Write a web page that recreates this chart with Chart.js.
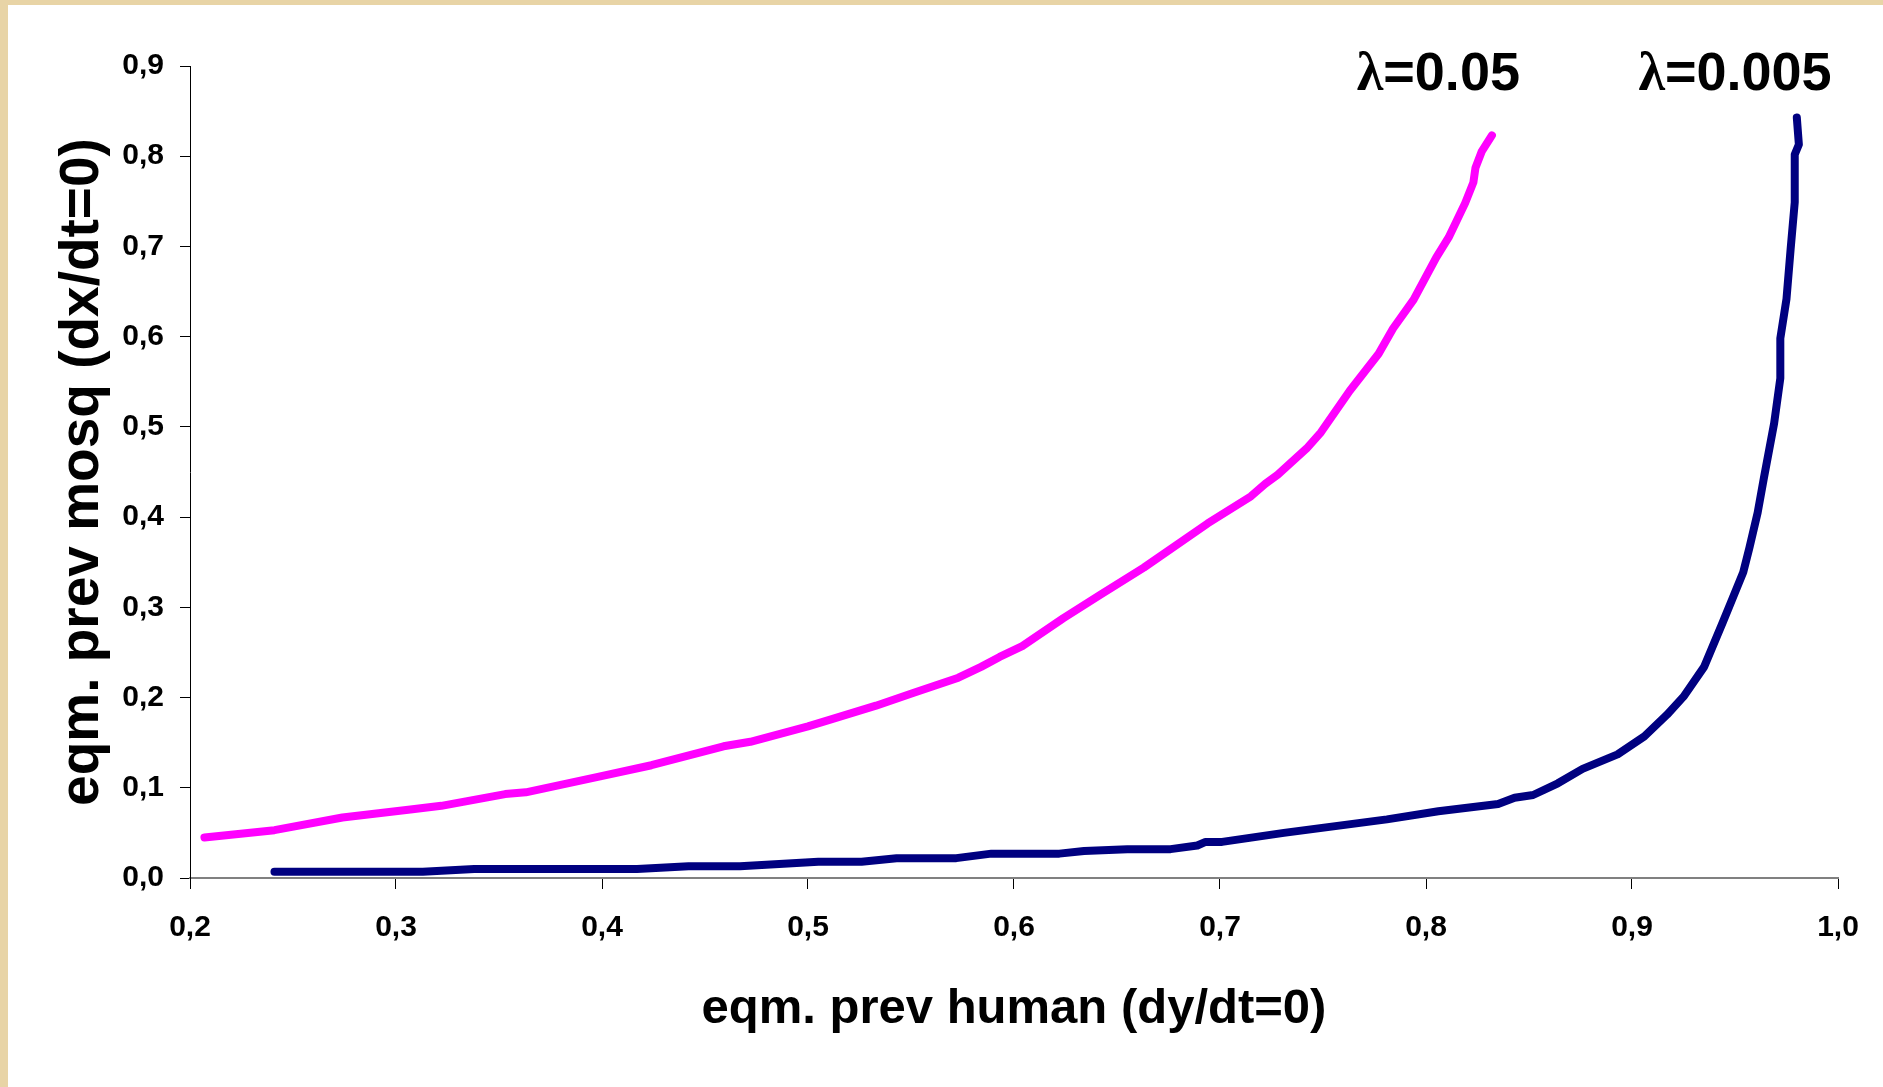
<!DOCTYPE html>
<html>
<head>
<meta charset="utf-8">
<script src="https://cdn.jsdelivr.net/npm/chart.js@4.4.0/dist/chart.umd.min.js"></script>
<style>
  html, body { margin: 0; padding: 0; }
  body { width: 1883px; height: 1087px; background: #e8d4a6; overflow: hidden; position: relative; }
  #wrap { position: absolute; left: 8px; top: 5px; width: 1875px; height: 1082px; background: #fff; }
  canvas { display: block; }
</style>
</head>
<body>
<div id="wrap"><canvas id="chart" width="1875" height="1082"></canvas></div>
<script>
// lambda = 0.05 (magenta)
const xLam05 = [0.207, 0.241, 0.274, 0.307, 0.322, 0.353, 0.363, 0.398, 0.424, 0.459, 0.472, 0.500, 0.510, 0.533, 0.551, 0.573, 0.584, 0.593, 0.604, 0.624, 0.642, 0.663, 0.694, 0.715, 0.722, 0.728, 0.742, 0.749, 0.763, 0.777, 0.784, 0.794, 0.805, 0.811, 0.819, 0.823, 0.824, 0.827, 0.832];
const yLam05 = [0.045, 0.053, 0.067, 0.076, 0.080, 0.093, 0.095, 0.112, 0.125, 0.146, 0.151, 0.168, 0.175, 0.191, 0.205, 0.222, 0.234, 0.245, 0.257, 0.288, 0.314, 0.344, 0.393, 0.423, 0.437, 0.447, 0.476, 0.494, 0.540, 0.581, 0.609, 0.641, 0.688, 0.710, 0.748, 0.771, 0.787, 0.805, 0.823];

// lambda = 0.005 (navy)
const xLam005 = [0.241, 0.313, 0.338, 0.417, 0.442, 0.467, 0.505, 0.526, 0.543, 0.572, 0.589, 0.622, 0.634, 0.655, 0.676, 0.689, 0.693, 0.701, 0.731, 0.781, 0.806, 0.835, 0.843, 0.852, 0.864, 0.876, 0.893, 0.906, 0.917, 0.925, 0.935, 0.944, 0.949, 0.954, 0.957, 0.961, 0.964, 0.969, 0.972, 0.972, 0.975, 0.977, 0.979, 0.979, 0.981, 0.980];
const yLam005 = [0.007, 0.007, 0.010, 0.010, 0.013, 0.013, 0.018, 0.018, 0.022, 0.022, 0.027, 0.027, 0.030, 0.032, 0.032, 0.036, 0.040, 0.040, 0.050, 0.065, 0.074, 0.082, 0.089, 0.092, 0.105, 0.121, 0.137, 0.157, 0.181, 0.201, 0.234, 0.283, 0.311, 0.339, 0.366, 0.405, 0.443, 0.504, 0.554, 0.598, 0.642, 0.697, 0.749, 0.802, 0.813, 0.843];

// curve labels, anchored in data units
const labelText = ['=0.05', '=0.005'];
const labelX = [0.806, 0.950];
const labelY = [0.873, 0.873];

const xTitle = 'eqm. prev human (dy/dt=0)';
const yTitle = 'eqm. prev mosq (dx/dt=0)';

const SANS = '"Liberation Sans", Arial, sans-serif';
const SERIF = '"Liberation Serif", "Times New Roman", serif';
const toPoints = (xs, ys) => xs.map((x, i) => ({ x: x, y: ys[i] }));
const fmt = (v) => v.toFixed(1).replace('.', ',');

const lambdaLabels = {
  id: 'lambdaLabels',
  afterDatasetsDraw(chart) {
    const { ctx, scales } = chart;
    ctx.save();
    ctx.fillStyle = '#000';
    ctx.textBaseline = 'alphabetic';
    ctx.textAlign = 'left';
    labelText.forEach((txt, i) => {
      const cx = scales.x.getPixelForValue(labelX[i]);
      const by = scales.y.getPixelForValue(labelY[i]);
      ctx.font = 'bold 54px ' + SERIF;
      const wl = ctx.measureText('λ').width;
      ctx.font = 'bold 54px ' + SANS;
      const wt = ctx.measureText(txt).width;
      const x0 = cx - (wl + wt) / 2;
      ctx.font = 'bold 54px ' + SERIF;
      ctx.fillText('λ', x0, by);
      ctx.font = 'bold 54px ' + SANS;
      ctx.fillText(txt, x0 + wl, by);
    });
    ctx.restore();
  }
};

new Chart(document.getElementById('chart'), {
  type: 'scatter',
  data: {
    datasets: [
      {
        label: 'λ=0.05',
        data: toPoints(xLam05, yLam05),
        showLine: true,
        borderColor: '#ff00ff',
        backgroundColor: '#ff00ff',
        borderWidth: 8,
        pointRadius: 0,
        tension: 0,
        borderCapStyle: 'round',
        borderJoinStyle: 'round',
        clip: false
      },
      {
        label: 'λ=0.005',
        data: toPoints(xLam005, yLam005),
        showLine: true,
        borderColor: '#000080',
        backgroundColor: '#000080',
        borderWidth: 8,
        pointRadius: 0,
        tension: 0,
        borderCapStyle: 'round',
        borderJoinStyle: 'round',
        clip: false
      }
    ]
  },
  options: {
    responsive: false,
    animation: false,
    layout: { padding: { top: 61, right: 45, left: 0, bottom: 0 } },
    plugins: {
      legend: { display: false },
      tooltip: { enabled: false }
    },
    scales: {
      x: {
        type: 'linear',
        min: 0.2,
        max: 1.0,
        afterFit: (s) => { s.height = 209; },
        border: { display: true, color: '#808080', width: 2 },
        grid: { drawOnChartArea: false, drawTicks: true, tickLength: 11, color: '#000', lineWidth: 1 },
        ticks: {
          stepSize: 0.1,
          padding: 21,
          color: '#000',
          font: { family: SANS, size: 30, weight: 'bold' },
          callback: (v) => fmt(v)
        },
        title: {
          display: true,
          text: xTitle,
          color: '#000',
          font: { family: SANS, size: 49, weight: 'bold' },
          padding: { top: 0, bottom: 48 }
        }
      },
      y: {
        type: 'linear',
        min: 0,
        max: 0.9,
        afterFit: (s) => { s.width = 182; },
        border: { display: true, color: '#000', width: 1 },
        grid: { drawOnChartArea: false, drawTicks: true, tickLength: 10, color: '#000', lineWidth: 1 },
        ticks: {
          stepSize: 0.1,
          padding: 16,
          color: '#000',
          font: { family: SANS, size: 30, weight: 'bold' },
          callback: (v) => fmt(v)
        },
        title: {
          display: true,
          text: yTitle,
          color: '#000',
          font: { family: SANS, size: 55, weight: 'bold' },
          padding: { top: 42, bottom: 0 }
        }
      }
    }
  },
  plugins: [lambdaLabels]
});
</script>
</body>
</html>
